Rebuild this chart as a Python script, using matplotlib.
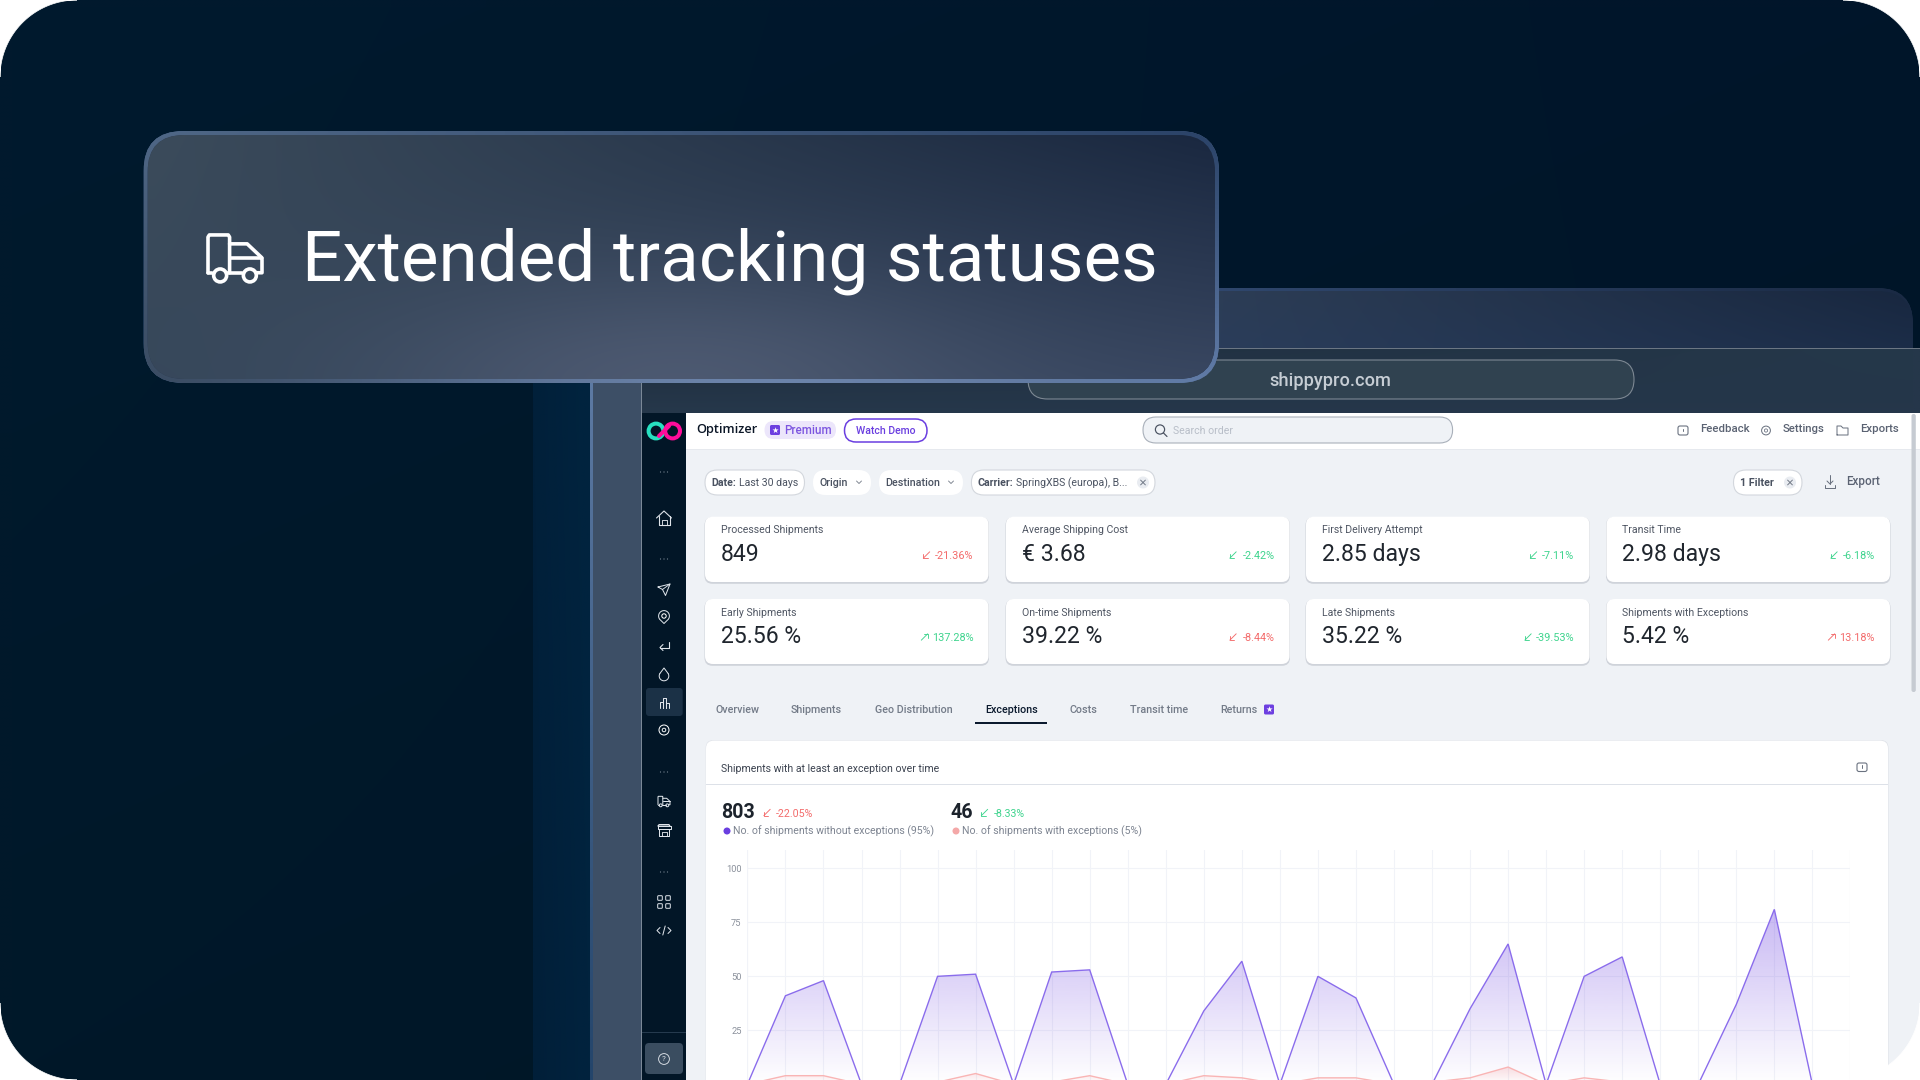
import numpy as np
import matplotlib
matplotlib.use("Agg")
import matplotlib.pyplot as plt
from matplotlib.patches import FancyBboxPatch, Circle, Polygon, Rectangle
from matplotlib.colors import to_rgb

plt.rcParams['font.family'] = ['Roboto', 'DejaVu Sans']

# ---------- data ----------
title_text = "Extended tracking statuses"
url_text = "shippypro.com"
days = list(range(30))
without_exceptions = [0, 41, 48, 0, 0, 50, 51, 0, 52, 53, 0, 0, 34, 57, 0, 50, 40, 0, 0, 35, 65, 0, 50, 59, 0, 0, 37, 81, 0, 0]
with_exceptions = [0, 4, 4, 0, 0, 1, 5, 0, 1, 4, 0, 0, 4, 3, 0, 3, 3, 0, 1, 3, 8, 0, 3, 1, 0, 0, 0, 0, 0, 0]
y_ticks = [25, 50, 75, 100]
kpi_labels = ["Processed Shipments", "Average Shipping Cost", "First Delivery Attempt", "Transit Time",
              "Early Shipments", "On-time Shipments", "Late Shipments", "Shipments with Exceptions"]
kpi_values = ["849", "€ 3.68", "2.85 days", "2.98 days", "25.56 %", "39.22 %", "35.22 %", "5.42 %"]
kpi_deltas = ["-21.36%", "-2.42%", "-7.11%", "-6.18%", "137.28%", "-8.44%", "-39.53%", "13.18%"]
kpi_good = [False, True, True, True, True, False, True, False]
kpi_up = [False, False, False, False, True, False, False, True]
tabs = ["Overview", "Shipments", "Geo Distribution", "Exceptions", "Costs", "Transit time", "Returns"]

# ---------- layout ----------
fig = plt.figure(figsize=(19.2, 10.8), dpi=100, facecolor='white')
ui = fig.add_axes([0, 0, 1, 1], zorder=1)
ui.set_axis_off()
ui.set_autoscale_on(False)
ui.set_xlim(0, 1920)
ui.set_ylim(1080, 0)

def px(v):
    return v * 72 / 100

def rrect(x0, y0, x1, y1, r=0, fc='white', ec='none', lw=0, z=2, ax=ui, alpha=None):
    p = FancyBboxPatch((x0, y0), x1 - x0, y1 - y0, boxstyle=f"round,pad=0,rounding_size={r}",
                       fc=fc, ec=ec, lw=lw, zorder=z, alpha=alpha, mutation_aspect=1)
    ax.add_patch(p)
    return p

def rect(x0, y0, x1, y1, fc, z=2):
    ui.add_patch(Rectangle((x0, y0), x1 - x0, y1 - y0, fc=fc, ec='none', zorder=z))

def T(x, y, s, size=11, color='#4f5663', weight='normal', ha='left', va='center', z=6, **kw):
    return ui.text(x, y, s, fontsize=px(size), color=color, fontweight=weight, ha=ha, va=va, zorder=z, **kw)

def L(xs, ys, color='white', lw=1.0, z=6):
    ui.plot(xs, ys, color=color, lw=lw * 0.72, zorder=z, solid_capstyle='round', solid_joinstyle='round')

def C(x, y, r, fc='none', ec='white', lw=1.0, z=6):
    ui.add_patch(Circle((x, y), r, fc=fc, ec=ec, lw=lw * 0.72, zorder=z))

def grad(x0, y0, x1, y1, tl, tr, bl, br, z=2, clip=None, glow=None):
    n = 80
    u, v = np.meshgrid(np.linspace(0, 1, n), np.linspace(0, 1, n))
    a = [np.array(to_rgb(c)) for c in (tl, tr, bl, br)]
    img = ((1 - u)[..., None] * (1 - v)[..., None] * a[0] + u[..., None] * (1 - v)[..., None] * a[1]
           + (1 - u)[..., None] * v[..., None] * a[2] + u[..., None] * v[..., None] * a[3])
    if glow:
        gx, gy, sx, sy, col, st = glow
        X = x0 + u * (x1 - x0)
        Y = y0 + v * (y1 - y0)
        w = st * np.exp(-((X - gx) / sx) ** 2 - ((Y - gy) / sy) ** 2)
        img = img * (1 - w[..., None]) + np.array(to_rgb(col)) * w[..., None]
    im = ui.imshow(img, extent=(x0, x1, y1, y0), origin='upper', aspect='auto', zorder=z, interpolation='bilinear')
    if clip is not None:
        im.set_clip_path(clip)
    ui.set_xlim(0, 1920)
    ui.set_ylim(1080, 0)
    return im

# ---------- backdrop ----------
grad(0, 0, 1920, 1080, '#011a2e', '#01152a', '#011829', '#001625', z=0)
grad(533, 383, 590, 1080, '#01203a', '#01243f', '#011f39', '#01233e', z=1)
grad(590, 383, 593, 1080, '#5d7aa3', '#5d7aa3', '#24456b', '#24456b', z=1)
rect(593, 383, 641.5, 1080, '#3d4f66', z=1)

# back window panel
back = rrect(1000, 288, 1913, 420, r=36, fc='#1d2d46', z=1)
grad(1000, 288, 1913, 420, '#36507a', '#1a2a44', '#36507a', '#1a2a44', z=1.1, clip=back)
clip_back = rrect(1000, 291, 1913, 420, r=36, fc='none', z=1)
grad(1000, 288, 1913, 348, '#33445c', '#18273f', '#2f4260', '#1c2d48', z=1.2, clip=clip_back)
grad(641.5, 348, 1920, 413, '#1f2d3e', '#25384a', '#26384b', '#25364a', z=1.5)
rect(641.5, 347.5, 1920, 348.8, '#6b7683', z=1.6)
rect(641, 383, 642, 1080, '#7b8897', z=3)
rrect(1028, 360, 1634, 399, r=19.5, fc='#304250', ec='#7d8893', lw=0.8, z=1.7)
T(1330, 380.5, url_text, size=18.3, color='#c6cdd4', weight='medium', ha='center', z=1.8)

# ---------- sidebar ----------
rect(642, 412.7, 686, 1080, '#021627', z=2)
rrect(646, 688, 682.7, 716, r=3, fc='#1b3146', z=3)
rect(642, 1032, 686, 1033, '#253a4e', z=3)
rrect(645, 1043, 683, 1074, r=4, fc='#3a4d60', z=3)
C(656, 431, 7.4, ec='#27e0c0', lw=4)
C(672.6, 431, 7.4, ec='#ff0d9b', lw=4)
L([659, 669], [436, 426], color='#ff0d9b', lw=4)
ICON = '#dfe4ea'
for yy in (472, 559, 772, 872):
    for dx in (-3.5, 0, 3.5):
        C(664 + dx, yy, 0.4, fc='#6f7d8b', ec='#6f7d8b', lw=0.4)

def truck(cx, cy, s, color=ICON, lw=1.2, z=6):
    h = s * 0.5
    L(np.array([-1, -1, -.95, -.25, -.2, -.2]) * h + cx, np.array([.62, -.7, -.78, -.78, -.7, .62]) * h + cy, color, lw, z)
    L(np.array([-.2, .45, .98, 1, 1, .82]) * h + cx, np.array([-.45, -.45, .05, .15, .62, .62]) * h + cy, color, lw, z)
    L(np.array([-.2, 1]) * h + cx, np.array([.08, .08]) * h + cy, color, lw, z)
    L(np.array([-.28, .25]) * h + cx, np.array([.62, .62]) * h + cy, color, lw, z)
    L(np.array([-.84, -1]) * h + cx, np.array([.62, .62]) * h + cy, color, lw, z)
    C(cx - .55 * h, cy + .72 * h, .24 * h, ec=color, lw=lw, z=z)
    C(cx + .55 * h, cy + .72 * h, .24 * h, ec=color, lw=lw, z=z)

# home
L([656.5, 664, 671.5], [518, 511, 518], ICON, 1.1)
L([658.5, 658.5, 669.5, 669.5], [516, 524.5, 524.5, 516], ICON, 1.1)
L([661.5, 661.5, 666.5, 666.5], [524.5, 520, 520, 524.5], ICON, 0.9)
# send
L([658, 670, 665.5, 662.5, 658], [587, 584, 595.5, 589.5, 587], ICON, 1.0)
L([662.5, 670], [589.5, 584], ICON, 0.9)
# pin
t2 = np.linspace(np.radians(-30), np.radians(210), 40)
L(664 + 5.4 * np.cos(t2), 616 - 5.4 * np.sin(t2), ICON, 1.0)
L([659.4, 664, 668.6], [619, 623.5, 619], ICON, 1.0)
C(664, 616, 2.2, lw=1.0)
# return
L([668.5, 668.5, 660], [642, 647.5, 647.5], ICON, 1.1)
L([663, 660, 663], [644.5, 647.5, 650.5], ICON, 1.1)
# drop
t3 = np.linspace(np.radians(-30), np.radians(210), 40)
L(664 + 4.8 * np.cos(t3), 676 + 4.8 * np.sin(t3), ICON, 1.0)
L([659.8, 664, 668.2], [673.6, 668, 673.6], ICON, 1.0)
# bars
for a, b, c in ((659.5, 662.5, 702), (662.5, 666, 698), (666, 669, 703)):
    L([a, a, b, b], [708, c, c, 708], ICON, 1.0)
# gear
C(664, 730, 5, lw=1.0)
C(664, 730, 1.8, lw=0.9)
# truck + store
truck(664, 801, 12, lw=1.0)
L([658, 659, 669, 670, 658], [826, 824.5, 824.5, 826, 826], ICON, 1.0)
L([657.5, 657.5, 670.5, 670.5, 657.5], [826, 828.5, 828.5, 826, 826], ICON, 1.0)
L([659, 659, 669, 669, 659], [828.5, 836, 836, 828.5, 828.5], ICON, 1.0)
L([661.5, 661.5, 666.5, 666.5], [836, 832, 832, 836], ICON, 0.9)
# grid
for xx in (660, 668):
    for yy in (898, 906):
        rrect(xx - 2.3, yy - 2.3, xx + 2.3, yy + 2.3, r=0.8, fc='none', ec=ICON, lw=0.7, z=6)
# code
L([660, 657, 660], [927.5, 930.5, 933.5], ICON, 1.0)
L([668, 671, 668], [927.5, 930.5, 933.5], ICON, 1.0)
L([662.8, 665.2], [935, 926], ICON, 1.0)
# help
C(664, 1059, 5.4, ec=ICON, lw=0.9)
T(664, 1059, "?", size=8, color=ICON, ha='center')

# ---------- main area ----------
rect(686, 412.7, 1920, 1080, '#eff2f6', z=2)
rect(686, 412.7, 1920, 449, 'white', z=2.1)
rect(686, 449, 1920, 450, '#e6e9ee', z=2.1)
rrect(1911.5, 414, 1915.8, 692, r=2, fc='#c6cbd2', z=2.3)
T(696.5, 430, "Optimizer", size=12.8, color='#0b1626', weight='semibold', family=['Open Sans', 'DejaVu Sans'])

def star(x0, y0, x1, y1):
    rrect(x0, y0, x1, y1, r=1.5, fc='#6d3fe0', z=6)
    T((x0 + x1) / 2, (y0 + y1) / 2, "★", size=8, color='white', ha='center', z=7, family=['DejaVu Sans'])

rrect(764.5, 421, 836, 439, r=9, fc='#ece6fb', z=3)
star(770, 425, 780, 435)
T(784, 430, "Premium", size=11.6, color='#7c55e0', weight='medium')
rrect(844.5, 419, 927, 442, r=11.5, fc='white', ec='#6a3ee0', lw=1.1, z=3)
T(885.7, 430.5, "Watch Demo", size=10.5, color='#6a3ee0', weight='medium', ha='center')
rrect(1143, 417, 1452.6, 443, r=13, fc='#eff2f6', ec='#a9b0ba', lw=0.8, z=3)
C(1160, 429.5, 4.6, ec='#4a5261', lw=1.2)
L([1163.5, 1167], [433, 436.5], '#4a5261', 1.2)
T(1173, 430.5, "Search order", size=10.5, color='#b8bec8')
HC = '#6a7280'
for s, tx in (("Feedback", 1700), ("Settings", 1783), ("Exports", 1860)):
    T(tx, 429.3, s, size=11.4, color='#5a6272', weight='medium')
rrect(1678, 426, 1688, 435, r=2, fc='none', ec=HC, lw=0.8, z=6)
L([1683, 1683], [428.5, 431], HC, 1.0)
C(1766, 430.5, 4.4, ec=HC, lw=1.0)
C(1766, 430.5, 1.6, ec=HC, lw=0.8)
L([1837, 1837, 1841, 1843, 1848, 1848, 1837], [435, 426, 426, 428, 428, 435, 435], HC, 1.0)

def pill(x0, x1, border=True):
    rrect(x0, 470, x1, 495, r=12.5, fc='white', ec='#d3d7dd' if border else 'none', lw=0.8, z=3)

def chev(x):
    L([x - 2.5, x, x + 2.5], [481, 483.5, 481], '#7a818d', 0.9)

def xbtn(x):
    C(x, 482.5, 6, fc='#e9ecf1', ec='none', lw=0)
    L([x - 2.4, x + 2.4], [480.1, 484.9], '#6a7280', 0.9)
    L([x - 2.4, x + 2.4], [484.9, 480.1], '#6a7280', 0.9)

FC = '#4a5261'
FY = 483
pill(705, 804.5)
T(711.5, FY, "Date:", size=10.5, color=FC, weight='bold')
T(739, FY, "Last 30 days", size=10.5, color=FC)
pill(813, 871, False)
T(819.5, FY, "Origin", size=10.8, color=FC, weight='medium')
chev(859)
pill(879, 963, False)
T(885.5, FY, "Destination", size=10.8, color=FC, weight='medium')
chev(951)
pill(971.4, 1155)
T(978, FY, "Carrier:", size=10.5, color=FC, weight='bold')
T(1015.5, FY, "SpringXBS (europa), B...", size=10.5, color=FC)
xbtn(1143)
pill(1733.5, 1802)
T(1740.5, FY, "1 Filter", size=10.8, color=FC, weight='bold')
xbtn(1790)
L([1830, 1830], [475, 484], HC, 1.0)
L([1827, 1830, 1833], [481, 484, 481], HC, 1.0)
L([1825, 1825, 1835, 1835], [485, 487.5, 487.5, 485], HC, 1.0)
T(1846.5, 481, "Export", size=11.6, color='#5a6272', weight='medium')

# ---------- KPI cards ----------
card_x = [705, 1006, 1306, 1606.5]
card_w = 283.5
card_rows = [(516.7, 582, 530.3, 554.5, 556), (599, 664, 612.5, 636.5, 638)]
arrow_x = [926.5, 1233, 1533.5, 1834, 924.5, 1233, 1528, 1831.5]
RED, GREEN = '#f36b6b', '#3fd48e'

def delta_arrow(x, y, up, col):
    s = 3.2
    if up:
        L([x - s, x + s], [y + s, y - s], col, 0.9)
        L([x - 1, x + s, x + s], [y - s, y - s, y + 1], col, 0.9)
    else:
        L([x + s, x - s], [y - s, y + s], col, 0.9)
        L([x - s, x - s, x + 1], [y - 1, y + s, y + s], col, 0.9)

for i, (lab, val, dlt) in enumerate(zip(kpi_labels, kpi_values, kpi_deltas)):
    r = card_rows[i // 4]
    x0 = card_x[i % 4]
    rrect(x0 - 0.5, r[0] + 0.5, x0 + card_w + 0.5, r[1] + 1.8, r=8, fc='#cfd3da', z=3)
    rrect(x0, r[0], x0 + card_w, r[1], r=8, fc='white', z=3.1)
    T(x0 + 16, r[2], lab, size=10.55, color='#4f5663')
    T(x0 + 16, r[3], val, size=23, color='#20262e')
    col = GREEN if kpi_good[i] else RED
    T(x0 + card_w - 15, r[4], dlt, size=10.9, color=col, ha='right')
    delta_arrow(arrow_x[i], r[4] - 1, kpi_up[i], col)

# ---------- tabs ----------
tab_x = [715, 791, 875.4, 985, 1069.6, 1130, 1220]
for s, x in zip(tabs, tab_x):
    active = s == "Exceptions"
    T(x, 710, s, size=10.8, color='#0b1a2e' if active else '#737b88', weight='medium')
star(1264, 704.5, 1274, 714.5)
rect(974.7, 722, 1047, 724, '#0b1a2e', z=5)

# ---------- chart card ----------
rrect(705.7, 740, 1888.5, 1200, r=8, fc='#dfe2e8', z=3)
rrect(706, 740.6, 1888, 1200, r=8, fc='white', z=3.1)
rect(706, 784, 1888, 785.4, '#dde1e8', z=3.2)
T(721, 768.5, "Shipments with at least an exception over time", size=10.5, color='#3c4350')
rrect(1857, 763, 1867, 771.5, r=2, fc='none', ec=HC, lw=0.8, z=6)
L([1862, 1862], [765, 768], HC, 1.0)

T(721, 813, "803", size=19.6, color='#1c232c', weight='bold')
delta_arrow(767, 812.5, False, RED)
T(776, 814, "-22.05%", size=10.6, color=RED)
T(950, 813, "46", size=19.6, color='#1c232c', weight='bold')
delta_arrow(984.5, 812.5, False, GREEN)
T(994, 814, "-8.33%", size=10.6, color=GREEN)
C(727, 831, 3.5, fc='#6a3fe0', ec='none', lw=0)
T(733, 831.5, "No. of shipments without exceptions (95%)", size=10.45, color='#7d8491')
C(956, 831, 3.5, fc='#f4a8a8', ec='none', lw=0)
T(962, 831.5, "No. of shipments with exceptions (5%)", size=10.45, color='#7d8491')

# ---------- the area chart ----------
W, H = 1920.0, 1080.0
ch = fig.add_axes([747.4 / W, 0, (1850.4 - 747.4) / W, (1080 - 850) / H], zorder=2)
ch.patch.set_alpha(0)
ch.set_xlim(0, 29)
ch.set_ylim(2, 108.5)
for sp in ch.spines.values():
    sp.set_visible(False)
ch.set_xticks(days)
ch.set_yticks(y_ticks)
ch.tick_params(axis='both', length=0)
ch.tick_params(axis='x', labelbottom=False)
ch.tick_params(axis='y', labelsize=px(9.3), labelcolor='#8a909b', pad=4.2)
ch.grid(True, color='#f1f3f8', lw=0.8)
ch.set_axisbelow(True)
ch.vlines([0, 29], 2, 108.5, color='#f1f3f8', lw=0.8, zorder=0.5)

def area(vals, line, fill, amax, vmax):
    xs = np.array(days, float)
    ys = np.array(vals, float)
    poly = Polygon(np.column_stack([np.r_[xs, xs[-1], xs[0]], np.r_[ys, 0, 0]]),
                   closed=True, fc='none', ec='none', transform=ch.transData)
    ch.add_patch(poly)
    g = np.linspace(1, 0, 256)[:, None]
    rgba = np.zeros((256, 1, 4))
    rgba[..., :3] = to_rgb(fill)
    rgba[..., 3] = g * amax
    im = ch.imshow(rgba, extent=(0, 29, 0, vmax), origin='upper', aspect='auto', zorder=1, interpolation='bilinear')
    im.set_clip_path(poly)
    ch.plot(xs, ys, color=line, lw=1.25 * 0.72 * 1.1, zorder=2, solid_joinstyle='miter')

area(without_exceptions, '#8a6cec', '#6a3fe0', 0.37, 81)
area(with_exceptions, '#f9b4b4', '#f47a7a', 0.22, 8)
ch.set_xlim(0, 29)
ch.set_ylim(2, 108.5)

# ---------- title card ----------
outer = rrect(143.6, 131, 1219, 383, r=40, fc='#4d668c', z=8)
inner = rrect(147.6, 135, 1215, 379, r=37, fc='#2a3a50', z=8.1)
grad(143.6, 131, 1219, 383, '#4f6786', '#2b4368', '#394a60', '#5f7aa6', z=8.05, clip=outer,
     glow=(760, 383, 330, 45, '#6f87ae', 0.9))
grad(147.6, 135, 1215, 379, '#3b4b5b', '#1a2840', '#36475a', '#384660', z=8.2, clip=inner,
     glow=(680, 385, 300, 110, '#505c74', 0.85))
ui.text(302.5, 280.7, title_text, fontsize=px(71), color='white', va='baseline', ha='left', zorder=9)
truck(235, 256, 54, color='white', lw=3.6, z=9.5)

# ---------- rounded outer corners ----------
top = fig.add_axes([0, 0, 1, 1], zorder=5)
top.set_axis_off()
top.patch.set_alpha(0)
top.set_xlim(0, 1920)
top.set_ylim(1080, 0)
R = 77
for cx, cy, sx, sy in ((0, 0, 1, 1), (1920, 0, -1, 1), (0, 1080, 1, -1), (1920, 1080, -1, -1)):
    t = np.linspace(0, np.pi / 2, 40)
    ax_ = cx + sx * (R - R * np.cos(t))
    ay_ = cy + sy * (R - R * np.sin(t))
    top.add_patch(Polygon(np.column_stack([np.r_[cx, ax_], np.r_[cy, ay_]]), closed=True, fc='white', ec='white', lw=0.5))

fig.savefig("out.png", dpi=100)
